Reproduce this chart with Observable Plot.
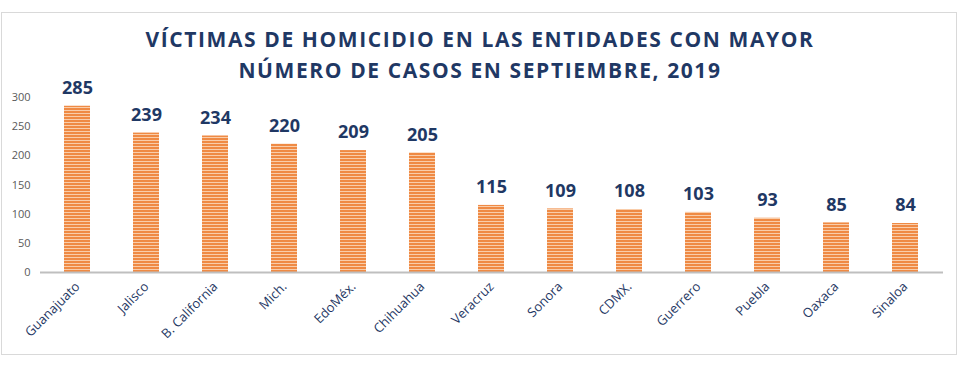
<!DOCTYPE html>
<html>
<head>
<meta charset="utf-8">
<script src="https://cdn.jsdelivr.net/npm/d3@7"></script>
<script src="https://cdn.jsdelivr.net/npm/@observablehq/plot@0.6"></script>
<style>
  html, body { margin: 0; padding: 0; background: #fff; }
  #wrap { position: relative; width: 960px; height: 370px; overflow: hidden; }
  #frame { position: absolute; left: 1px; top: 12px; width: 954px; height: 341px; border: 1.5px solid #D9D9D9; pointer-events: none; }
  #title { position: absolute; left: 0; top: 24px; width: 960px; text-align: center;
           font-family: "Open Sans", sans-serif; font-weight: 700; font-size: 21px; line-height: 31px;
           letter-spacing: 1.6px; color: #1F3864; }
  #chart { position: absolute; left: 0; top: 75px; }
</style>
</head>
<body>
<div id="wrap">
  <div id="frame"></div>
  <div id="chart"></div>
  <div id="title">VÍCTIMAS DE HOMICIDIO EN LAS ENTIDADES CON MAYOR<br>NÚMERO DE CASOS EN SEPTIEMBRE, 2019</div>
</div>
<script>
const entidades = ["Guanajuato", "Jalisco", "B. California", "Mich.", "EdoMéx.", "Chihuahua", "Veracruz", "Sonora", "CDMX.", "Guerrero", "Puebla", "Oaxaca", "Sinaloa"];
const victimas = [285, 239, 234, 220, 209, 205, 115, 109, 108, 103, 93, 85, 84];
const yTicks = [0, 50, 100, 150, 200, 250, 300];

const data = entidades.map((e, i) => ({entidad: e, valor: victimas[i]}));

const chart = Plot.plot({
  width: 960,
  height: 295,
  marginLeft: 40,
  marginRight: 17,
  marginTop: 22,
  marginBottom: 98,
  style: {fontFamily: "'Open Sans', sans-serif", background: "transparent", overflow: "visible"},
  x: {domain: entidades, paddingInner: 0.62, paddingOuter: 0.3, label: null},
  y: {domain: [0, 300], label: null},
  marks: [
    Plot.barY(data, {x: "entidad", y: "valor", fill: "url(#stripes)"}),
    Plot.ruleY([0], {stroke: "#BFBFBF", strokeWidth: 2}),
    Plot.axisY({ticks: yTicks, tickSize: 0, tickPadding: 10, label: null, fontSize: 11, color: "#595959"}),
    Plot.axisX({tickSize: 0, tickRotate: -45, tickPadding: 12, label: null, fontSize: 13, color: "#1F3864"}),
    Plot.text(data, {x: "entidad", y: "valor", text: d => String(d.valor), dy: -18, fontSize: 18, fontWeight: 700, fill: "#1F3864"})
  ]
});

d3.select(chart).insert("defs", ":first-child").html(
  '<pattern id="stripes" patternUnits="userSpaceOnUse" width="6" height="3">' +
  '<rect width="6" height="3" fill="#F9CDAA"></rect>' +
  '<rect width="6" height="2" fill="#EF8A44"></rect>' +
  '</pattern>'
);

document.getElementById("chart").appendChild(chart);
</script>
</body>
</html>
